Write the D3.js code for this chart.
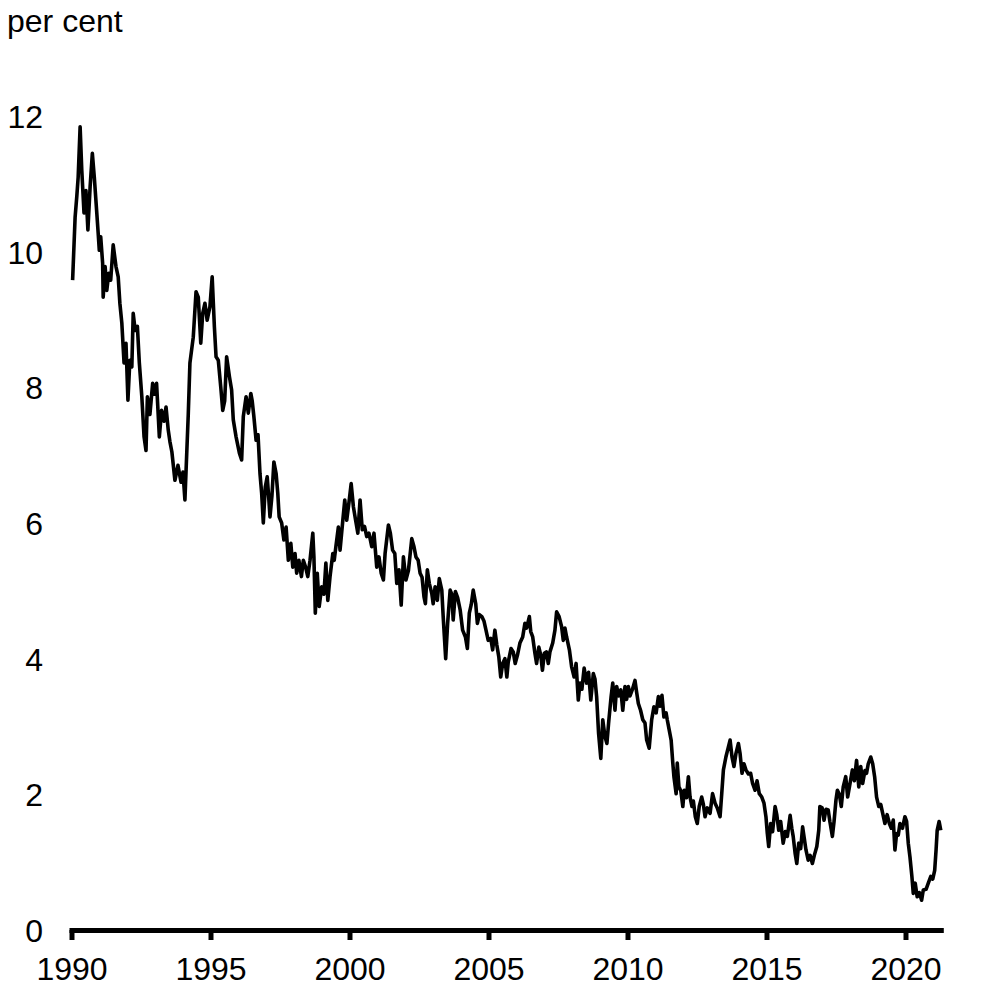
<!DOCTYPE html>
<html>
<head>
<meta charset="utf-8">
<script src="https://cdn.jsdelivr.net/npm/d3@7"></script>
<style>
  html, body { margin: 0; padding: 0; background: #ffffff; }
  svg { display: block; font-family: "Liberation Sans", Arial, sans-serif; }
</style>
</head>
<body>
<svg id="chart" width="1004" height="1004"></svg>
<script>
// ---- Data ----
const years = [
  1990.04,1990.13,1990.19,1990.24,1990.31,1990.37,1990.45,1990.52,1990.59,1990.67,
  1990.75,1990.82,1990.91,1990.96,1991.00,1991.05,1991.12,1991.14,1991.21,1991.27,
  1991.34,1991.41,1991.50,1991.60,1991.68,1991.74,1991.81,1991.89,1991.96,1992.03,
  1992.10,1992.17,1992.22,1992.29,1992.37,1992.44,1992.53,1992.61,1992.68,1992.73,
  1992.82,1992.92,1992.99,1993.06,1993.16,1993.24,1993.33,1993.40,1993.48,1993.54,
  1993.61,1993.72,1993.83,1993.94,1994.01,1994.08,1994.20,1994.26,1994.38,1994.48,
  1994.56,1994.65,1994.72,1994.80,1994.88,1994.98,1995.06,1995.14,1995.20,1995.28,
  1995.37,1995.44,1995.51,1995.58,1995.68,1995.76,1995.82,1995.92,1996.04,1996.12,
  1996.18,1996.28,1996.36,1996.45,1996.50,1996.56,1996.64,1996.71,1996.78,1996.84,
  1996.90,1996.97,1997.04,1997.09,1997.14,1997.21,1997.28,1997.36,1997.42,1997.47,
  1997.56,1997.64,1997.72,1997.80,1997.89,1997.96,1998.04,1998.10,1998.18,1998.27,
  1998.34,1998.42,1998.50,1998.58,1998.68,1998.72,1998.77,1998.84,1998.91,1999.00,
  1999.08,1999.15,1999.22,1999.30,1999.40,1999.45,1999.51,1999.60,1999.66,1999.76,
  1999.83,1999.90,1999.98,2000.06,2000.14,2000.22,2000.30,2000.38,2000.46,2000.54,
  2000.62,2000.70,2000.80,2000.88,2000.98,2001.06,2001.14,2001.22,2001.28,2001.40,
  2001.47,2001.55,2001.63,2001.70,2001.78,2001.86,2001.94,2002.03,2002.12,2002.24,
  2002.32,2002.39,2002.47,2002.54,2002.61,2002.68,2002.73,2002.80,2002.87,2002.96,
  2003.01,2003.08,2003.16,2003.23,2003.32,2003.37,2003.46,2003.53,2003.62,2003.68,
  2003.73,2003.81,2003.89,2003.98,2004.07,2004.17,2004.24,2004.31,2004.38,2004.45,
  2004.54,2004.60,2004.67,2004.76,2004.84,2004.91,2004.99,2005.08,2005.15,2005.23,
  2005.30,2005.37,2005.44,2005.51,2005.59,2005.66,2005.71,2005.81,2005.89,2005.96,
  2006.04,2006.13,2006.23,2006.31,2006.37,2006.47,2006.52,2006.59,2006.67,2006.73,
  2006.81,2006.88,2006.94,2007.01,2007.08,2007.15,2007.21,2007.31,2007.39,2007.45,
  2007.54,2007.63,2007.69,2007.75,2007.81,2007.91,2007.99,2008.08,2008.15,2008.23,
  2008.29,2008.36,2008.44,2008.53,2008.60,2008.68,2008.77,2008.83,2008.89,2008.96,
  2009.04,2009.11,2009.19,2009.26,2009.32,2009.41,2009.47,2009.55,2009.61,2009.68,
  2009.76,2009.83,2009.91,2009.97,2010.03,2010.09,2010.18,2010.27,2010.33,2010.39,
  2010.47,2010.55,2010.63,2010.69,2010.78,2010.87,2010.95,2011.03,2011.11,2011.17,
  2011.24,2011.31,2011.39,2011.43,2011.50,2011.57,2011.63,2011.67,2011.75,2011.79,
  2011.85,2011.92,2011.99,2012.04,2012.12,2012.19,2012.25,2012.32,2012.37,2012.44,
  2012.51,2012.58,2012.67,2012.73,2012.79,2012.87,2012.97,2013.06,2013.15,2013.23,
  2013.33,2013.39,2013.45,2013.54,2013.63,2013.69,2013.76,2013.83,2013.90,2013.99,
  2014.05,2014.12,2014.19,2014.26,2014.35,2014.43,2014.50,2014.59,2014.66,2014.74,
  2014.83,2014.91,2014.98,2015.03,2015.08,2015.15,2015.22,2015.31,2015.37,2015.44,
  2015.51,2015.60,2015.68,2015.75,2015.85,2015.91,2015.96,2016.03,2016.09,2016.16,
  2016.23,2016.30,2016.36,2016.42,2016.50,2016.57,2016.65,2016.72,2016.81,2016.88,
  2016.92,2017.00,2017.07,2017.14,2017.22,2017.28,2017.37,2017.43,2017.50,2017.55,
  2017.62,2017.69,2017.76,2017.85,2017.92,2018.00,2018.09,2018.16,2018.24,2018.32,
  2018.39,2018.46,2018.54,2018.60,2018.66,2018.75,2018.82,2018.89,2018.96,2019.04,
  2019.11,2019.18,2019.26,2019.34,2019.42,2019.49,2019.56,2019.62,2019.68,2019.74,
  2019.80,2019.89,2019.98,2020.04,2020.10,2020.16,2020.23,2020.28,2020.35,2020.42,
  2020.50,2020.58,2020.64,2020.74,2020.82,2020.91,2020.98,2021.05,2021.10,2021.14,
  2021.21,2021.27
];
const yields = [
  9.58,10.51,10.81,11.10,11.84,11.20,10.57,10.90,10.32,10.96,
  11.45,11.10,10.57,10.27,10.02,10.22,9.83,9.33,9.78,9.43,
  9.68,9.58,10.10,9.78,9.63,9.24,8.95,8.36,8.65,7.81,
  8.40,8.30,9.09,8.84,8.90,8.36,7.86,7.27,7.07,7.86,
  7.60,8.06,7.90,8.06,7.27,7.66,7.50,7.71,7.37,7.20,
  7.05,6.63,6.85,6.60,6.75,6.34,7.60,8.36,8.74,9.41,
  9.33,8.65,9.09,9.24,8.99,9.19,9.63,8.89,8.45,8.40,
  8.00,7.66,7.80,8.45,8.16,7.96,7.52,7.27,7.03,6.93,
  7.57,7.86,7.62,7.91,7.80,7.57,7.22,7.30,6.73,6.44,
  6.00,6.53,6.68,6.40,6.09,6.40,6.90,6.73,6.44,6.09,
  6.00,5.75,5.94,5.45,5.70,5.35,5.55,5.26,5.45,5.21,
  5.45,5.35,5.21,5.45,5.85,5.50,4.67,5.26,4.77,5.06,
  4.95,5.41,4.86,5.21,5.55,5.45,5.65,5.94,5.60,6.04,
  6.34,6.04,6.30,6.58,6.24,6.04,5.85,6.34,5.90,5.95,
  5.80,5.85,5.65,5.85,5.35,5.50,5.26,5.16,5.55,5.97,
  5.85,5.60,5.55,5.11,5.31,4.79,5.50,5.16,5.30,5.77,
  5.65,5.50,5.45,5.26,5.20,4.91,4.81,5.31,5.11,4.96,
  4.81,5.06,4.86,5.18,5.01,4.62,4.00,4.52,5.01,4.95,
  4.57,4.99,4.90,4.72,4.42,4.32,4.15,4.67,4.80,5.01,
  4.81,4.52,4.65,4.62,4.55,4.42,4.27,4.30,4.13,4.42,
  4.20,4.03,3.73,3.93,4.00,3.73,3.95,4.15,4.10,3.93,
  4.05,4.23,4.32,4.52,4.45,4.62,4.40,4.32,4.08,3.93,
  4.17,4.05,3.83,4.08,4.10,3.93,4.10,4.23,4.42,4.69,
  4.62,4.47,4.27,4.45,4.32,4.13,3.88,3.73,3.93,3.39,
  3.64,3.55,3.86,3.64,3.80,3.39,3.78,3.70,3.44,2.90,
  2.53,3.10,2.85,2.75,3.05,3.44,3.64,3.24,3.59,3.45,
  3.54,3.24,3.59,3.40,3.59,3.45,3.55,3.68,3.50,3.34,
  3.24,3.10,3.05,2.80,2.68,3.10,3.29,3.20,3.44,3.30,
  3.46,3.14,3.20,3.10,2.95,2.80,2.46,2.26,2.01,2.46,
  2.11,2.05,1.82,2.06,1.95,2.26,1.96,1.82,1.90,1.67,
  1.57,1.82,1.96,1.85,1.67,1.80,1.72,2.01,1.87,1.80,
  1.67,2.01,2.36,2.55,2.70,2.80,2.55,2.41,2.60,2.75,
  2.60,2.31,2.45,2.36,2.30,2.31,2.16,2.06,2.20,2.01,
  1.96,1.87,1.67,1.42,1.23,1.57,1.45,1.82,1.70,1.47,
  1.60,1.28,1.45,1.38,1.69,1.50,1.38,1.13,0.98,1.28,
  1.20,1.52,1.35,1.18,1.03,1.10,0.98,1.10,1.23,1.47,
  1.82,1.80,1.62,1.78,1.77,1.60,1.38,1.60,1.92,2.06,
  2.00,1.82,2.11,2.26,1.96,2.15,2.36,2.20,2.50,2.11,
  2.41,2.16,2.35,2.31,2.45,2.55,2.45,2.26,1.96,1.82,
  1.85,1.72,1.57,1.70,1.57,1.50,1.62,1.18,1.42,1.40,
  1.57,1.50,1.67,1.60,1.28,1.08,0.79,0.54,0.69,0.49,
  0.55,0.44,0.59,0.60,0.69,0.79,0.75,0.88,1.18,1.47,
  1.60,1.47
];
const xTickValues = [1990, 1995, 2000, 2005, 2010, 2015, 2020];
const yTickValues = [0, 2, 4, 6, 8, 10, 12];
const yAxisTitle = "per cent";

// ---- Chart ----
const svg = d3.select("#chart");
const FONT = 32;

const x = d3.scaleLinear().domain([1990, 2021.27]).range([71.5, 940.8]);
const y = d3.scaleLinear().domain([0, 12]).range([930, 116]);

const data = years.map((yr, i) => ({ t: yr, v: yields[i] }));

// y-axis labels only (no line, no ticks)
const yAxis = svg.append("g")
  .attr("transform", "translate(43,0)")
  .call(d3.axisLeft(y).tickValues(yTickValues).tickSize(0).tickPadding(0).tickFormat(d3.format("d")));
yAxis.select(".domain").remove();
yAxis.selectAll("text")
  .attr("fill", "#000")
  .attr("font-size", FONT)
  .attr("font-family", "'Liberation Sans', Arial, sans-serif")
  .attr("dy", "0.36em");

// line
const line = d3.line().x(d => x(d.t)).y(d => y(d.v));
svg.append("path")
  .datum(data)
  .attr("fill", "none")
  .attr("stroke", "#000")
  .attr("stroke-width", 3.6)
  .attr("stroke-linejoin", "round")
  .attr("d", line);

// x-axis
const xAxis = svg.append("g")
  .attr("transform", `translate(0,${y(0)})`)
  .call(d3.axisBottom(x).tickValues(xTickValues).tickSize(10).tickSizeOuter(0).tickFormat(d3.format("d")));
xAxis.select(".domain")
  .attr("stroke", "#000")
  .attr("stroke-width", 5)
  .attr("stroke-linecap", "square");
xAxis.selectAll(".tick line")
  .attr("stroke", "#000")
  .attr("stroke-width", 5);
xAxis.selectAll(".tick text")
  .attr("fill", "#000")
  .attr("font-size", FONT)
  .attr("font-family", "'Liberation Sans', Arial, sans-serif")
  .attr("y", 50)
  .attr("dy", "0");

// axis title
svg.append("text")
  .attr("x", 7)
  .attr("y", 32)
  .attr("font-size", FONT)
  .attr("fill", "#000")
  .text(yAxisTitle);
</script>
</body>
</html>
